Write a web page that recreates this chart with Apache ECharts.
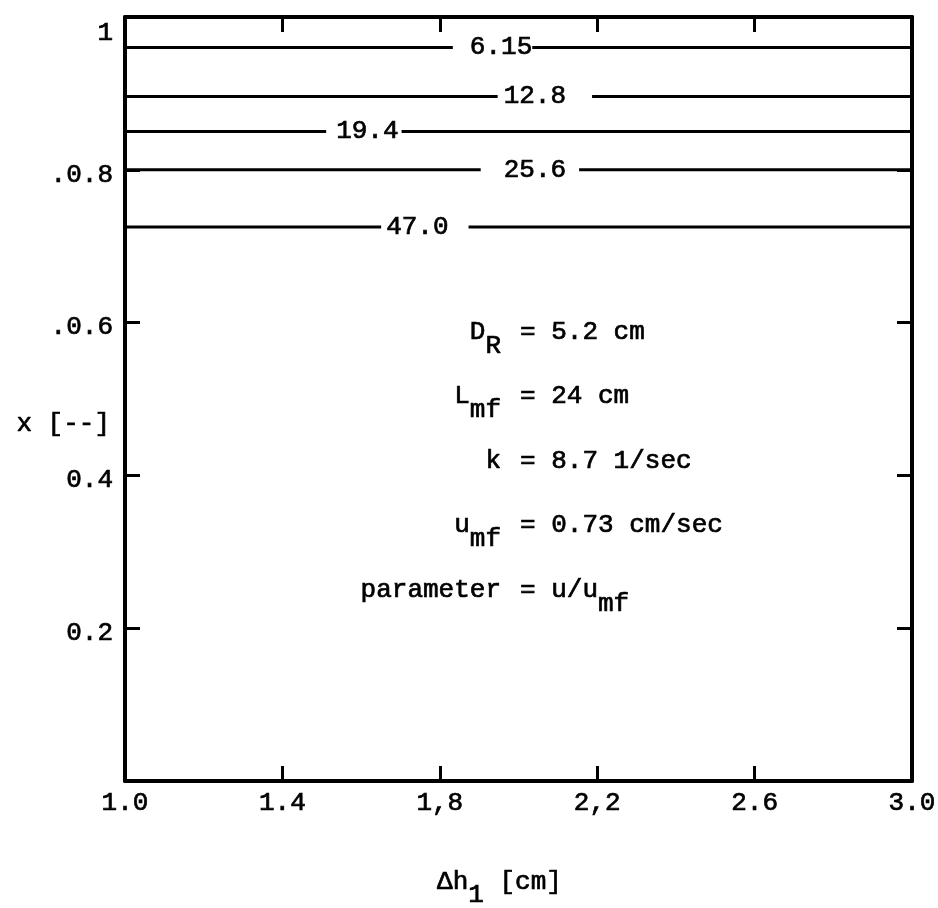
<!DOCTYPE html>
<html>
<head>
<meta charset="utf-8">
<script src="https://cdn.jsdelivr.net/npm/echarts@6/dist/echarts.min.js"></script>
<style>
  html, body { margin: 0; background: #fff; }
  #chart { width: 938px; height: 908px; }
</style>
</head>
<body>
<div id="chart"></div>
<script>
// parameter u/u_mf of each curve
var params = ['6.15', '12.8', '19.4', '25.6', '47.0'];
// x [--] level of each curve (flat over the whole range)
var xLevels = [0.96, 0.896, 0.85, 0.80, 0.725];
// Δh1 value where each curve's label is written
var labelAt = [1.934, 2.067, 1.607, 2.029, 1.762];
var hRange = [1.0, 3.0];

var xTicks = [1.0, 1.4, 1.8, 2.2, 2.6, 3.0];
var xTickLabels = ['1.0', '1.4', '1,8', '2,2', '2.6', '3.0'];
var yTicks = [0.2, 0.4, 0.6, 0.8, 1.0];
var yTickLabels = ['0.2', '0.4', '.0.6', '.0.8', '1'];

var notesLeft = ['D{s|R}', 'L{s|mf}', 'k', 'u{s|mf}', 'parameter'];
var notesRight = ['= 5.2 cm', '= 24 cm', '= 8.7 1/sec', '= 0.73 cm/sec', '= u/u{s|mf}'];

var FONT = 'Liberation Mono';
// typewriter look: regular face, slightly thickened
var txt = { fontFamily: FONT, fontSize: 26, color: '#000', textBorderColor: '#000', textBorderWidth: 0.7 };

function pick(vals, labels, v) {
  for (var i = 0; i < vals.length; i++) {
    if (Math.abs(vals[i] - v) < 1e-6) return labels[i];
  }
  return '';
}
function withTxt(o) { return Object.assign({}, txt, o); }

// gap left/right around each label (px)
var gaps = [[17, 0], [6, 26], [10, 3], [23, 13], [5, 20]];

var series = params.map(function (p, i) {
  return {
    name: p,
    type: 'line',
    symbol: 'circle',
    symbolSize: 1,
    lineStyle: { color: '#000', width: 3 },
    itemStyle: { color: '#000' },
    data: [
      [hRange[0], xLevels[i]],
      {
        value: [labelAt[i], xLevels[i]],
        label: withTxt({
          show: true,
          position: 'inside',
          formatter: p,
          backgroundColor: '#fff',
          padding: [0, gaps[i][1], 8, gaps[i][0]]
        })
      },
      [hRange[1], xLevels[i]]
    ]
  };
});

var frameLine = { show: true, onZero: false, lineStyle: { color: '#000', width: 4 } };
var innerTick = { show: true, inside: true, length: 15, lineStyle: { color: '#000', width: 3 } };

var gText = { font: '26px "Liberation Mono"', fill: '#000', stroke: '#000', lineWidth: 0.7 };
var gRich = { s: Object.assign({ padding: [28, 0, 0, 0] }, gText) };

var chart = echarts.init(document.getElementById('chart'));
chart.setOption({
  animation: false,
  backgroundColor: '#fff',
  grid: { left: 125, right: 26, top: 17, bottom: 127, containLabel: false, outerBoundsMode: 'none' },
  xAxis: [
    {
      type: 'value', min: hRange[0], max: hRange[1], position: 'bottom',
      axisLine: frameLine,
      axisTick: Object.assign({ customValues: [1.4, 1.8, 2.2, 2.6] }, innerTick),
      splitLine: { show: false },
      axisLabel: withTxt({
        customValues: xTicks,
        margin: 9,
        formatter: function (v) { return pick(xTicks, xTickLabels, v); }
      }),
      name: '{m|Δh}{s|1}{m| [cm]}',
      nameLocation: 'middle',
      nameGap: 75,
      nameMoveOverlap: false,
      nameTextStyle: {
        padding: [0, 38, 0, 0],
        rich: {
          m: withTxt({}),
          s: withTxt({ padding: [26, 0, 0, 0] })
        }
      }
    },
    {
      type: 'value', min: hRange[0], max: hRange[1], position: 'top',
      axisLine: frameLine,
      axisTick: Object.assign({ customValues: [1.4, 1.8, 2.2, 2.6] }, innerTick),
      splitLine: { show: false },
      axisLabel: { show: false }
    }
  ],
  yAxis: [
    {
      type: 'value', min: 0, max: 1, interval: 0.2, position: 'left',
      axisLine: frameLine,
      axisTick: Object.assign({ customValues: [0.2, 0.4, 0.6, 0.8] }, innerTick),
      splitLine: { show: false },
      axisLabel: {
        customValues: yTicks,
        margin: 12,
        showMaxLabel: true,
        formatter: function (v) {
          var l = pick(yTicks, yTickLabels, v);
          return l === '1' ? '{t|1}' : '{n|' + l + '}';
        },
        rich: {
          n: withTxt({ padding: [10, 0, 0, 0] }),
          t: withTxt({ padding: [32, 0, 0, 0] })
        }
      },
      name: '{a|x [--]}',
      nameLocation: 'middle',
      nameRotate: 0,
      nameGap: 15,
      nameMoveOverlap: false,
      nameTextStyle: {
        rich: { a: withTxt({ padding: [50, 0, 0, 0] }) }
      }
    },
    {
      type: 'value', min: 0, max: 1, interval: 0.2, position: 'right',
      axisLine: frameLine,
      axisTick: Object.assign({ customValues: [0.2, 0.4, 0.6, 0.8] }, innerTick),
      splitLine: { show: false },
      axisLabel: { show: false }
    }
  ],
  series: series,
  graphic: notesLeft.map(function (t, i) {
    return {
      type: 'text', x: 501, y: 332 + i * 64.5,
      style: Object.assign({ text: t, align: 'right', verticalAlign: 'middle', rich: gRich }, gText)
    };
  }).concat(notesRight.map(function (t, i) {
    return {
      type: 'text', x: 520, y: 332 + i * 64.5,
      style: Object.assign({ text: t, align: 'left', verticalAlign: 'middle', rich: gRich }, gText)
    };
  }))
});
</script>
</body>
</html>
